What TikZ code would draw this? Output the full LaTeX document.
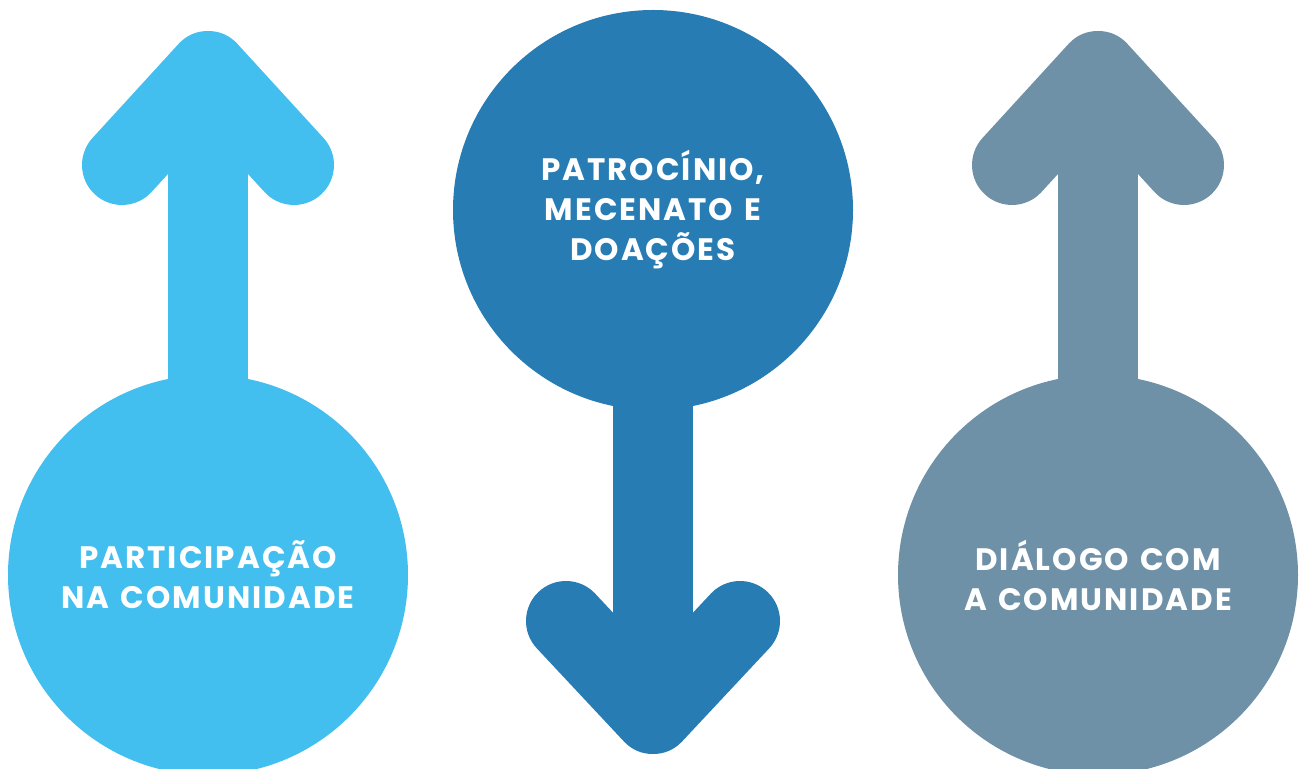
\documentclass[tikz,border=0pt]{standalone}
\usepackage{fontspec}
\setmainfont{Poppins}
\newfontfamily\bubblefont{Poppins}[LetterSpace=6.5,WordSpace=1.3]
\definecolor{skyblue}{RGB}{67,191,239}
\definecolor{oceanblue}{RGB}{39,124,180}
\definecolor{slateblue}{RGB}{111,145,168}
\begin{document}
\begin{tikzpicture}[x=0.5pt,y=-0.5pt]

\tikzset{shaft/.style={line width=40pt},
chevron/.style={line width=40pt, line cap=round, line join=round},
%text sits in the middle of each circle
bubble/.style={circle, minimum size=200pt, inner sep=0pt, outer sep=0pt, text=white, align=center,
font=\bubblefont\fontsize{15.5}{20}\selectfont\bfseries}}

\useasboundingbox (0,0) rectangle (1301,769);

% left: arrow up
\coordinate (partC) at (208,575);
\coordinate (partTip) at (208,71);
\coordinate (partL) at (122,165);
\coordinate (partR) at (294,165);
\draw [shaft,skyblue] (partC) -- (partTip);
\draw [chevron,skyblue] (partL) -- (partTip) -- (partR);
\node [bubble,fill=skyblue] (partic) at (partC) {PARTICIPAÇÃO\\NA COMUNIDADE};

% middle: arrow down
\coordinate (patrC) at (653,210);
\coordinate (patrTip) at (653,714);
\coordinate (patrL) at (566,621);
\coordinate (patrR) at (740,621);
\draw [shaft,oceanblue] (patrC) -- (patrTip);
\draw [chevron,oceanblue] (patrL) -- (patrTip) -- (patrR);
\node [bubble,fill=oceanblue] (patroc) at (patrC) {PATROCÍNIO,\\MECENATO E\\DOAÇÕES};

% right: arrow up
\coordinate (dialC) at (1098,575);
\coordinate (dialTip) at (1098,71);
\coordinate (dialL) at (1012,165);
\coordinate (dialR) at (1184,165);
\draw [shaft,slateblue] (dialC) -- (dialTip);
\draw [chevron,slateblue] (dialL) -- (dialTip) -- (dialR);
\node [bubble,fill=slateblue] (dialog) at (dialC) {DIÁLOGO COM\\A COMUNIDADE};

\end{tikzpicture}
\end{document}
